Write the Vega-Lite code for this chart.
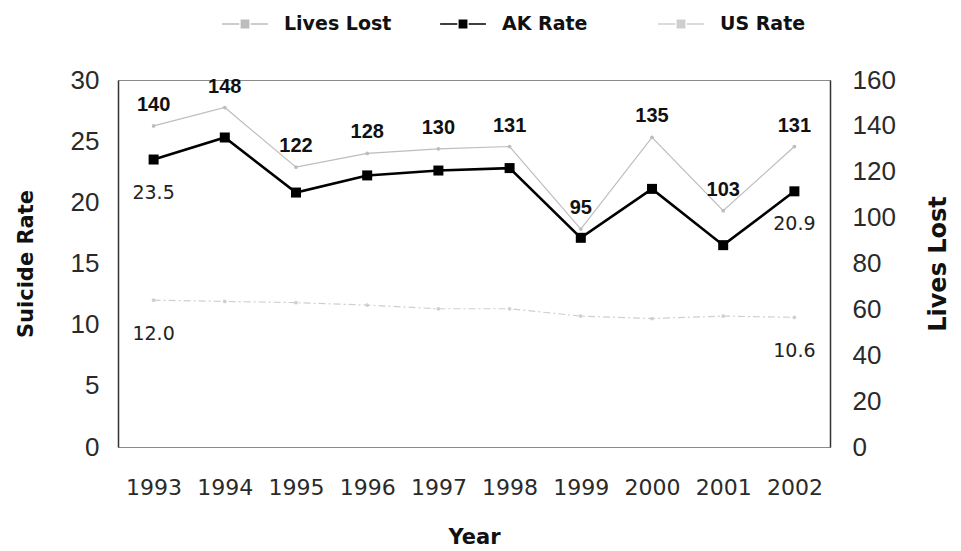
{
  "$schema": "https://vega.github.io/schema/vega-lite/v6.json",
  "width": 712,
  "height": 367,
  "autosize": "none",
  "padding": {"left": 118, "top": 80, "right": 131, "bottom": 104},
  "background": "white",
  "config": {
    "view": {"stroke": "#8a8a8a", "strokeWidth": 1},
    "font": "Liberation Sans",
    "axis": {"grid": false, "ticks": false, "domainColor": "#333", "domainWidth": 1.5},
    "legend": {
      "orient": "none",
      "legendX": 103,
      "legendY": -80,
      "direction": "horizontal",
      "title": null,
      "gridAlign": "all",
      "symbolType": "M-1,0H-0.25M0.25,0H1M-0.16,-0.16H0.16V0.16H-0.16Z",
      "symbolSize": 2100,
      "labelFont": "DejaVu Sans",
      "labelFontWeight": "bold",
      "labelFontSize": 19,
      "labelColor": "#111",
      "labelOffset": 15,
      "columnPadding": 45
    }
  },
  "data": {
    "values": [
      {"year": "1993", "lives": 140, "ak": 23.5, "us": 12.0},
      {"year": "1994", "lives": 148, "ak": 25.3, "us": 11.9},
      {"year": "1995", "lives": 122, "ak": 20.8, "us": 11.8},
      {"year": "1996", "lives": 128, "ak": 22.2, "us": 11.6},
      {"year": "1997", "lives": 130, "ak": 22.6, "us": 11.3},
      {"year": "1998", "lives": 131, "ak": 22.8, "us": 11.3},
      {"year": "1999", "lives": 95, "ak": 17.1, "us": 10.7},
      {"year": "2000", "lives": 135, "ak": 21.1, "us": 10.5},
      {"year": "2001", "lives": 103, "ak": 16.5, "us": 10.7},
      {"year": "2002", "lives": 131, "ak": 20.9, "us": 10.6}
    ]
  },
  "encoding": {
    "x": {
      "field": "year",
      "type": "ordinal",
      "scale": {"type": "point", "padding": 0.5},
      "axis": {
        "title": "Year",
        "labelAngle": 0,
        "labelFont": "DejaVu Sans",
        "labelFontSize": 22,
        "labelColor": "#2a2a2a",
        "labelPadding": 30,
        "domain": false,
        "titleFont": "DejaVu Sans",
        "titleFontSize": 21,
        "titleFontWeight": "bold",
        "titleColor": "#111",
        "titlePadding": 28
      }
    }
  },
  "layer": [
    {
      "layer": [
        {
          "mark": {"type": "line", "strokeWidth": 1.2, "strokeDash": [7, 3, 2, 3], "point": {"size": 14, "filled": true, "color": "#c4c4c4"}},
          "encoding": {
            "y": {
              "field": "us",
              "type": "quantitative",
              "scale": {"domain": [0, 30]},
              "axis": {
                "title": "Suicide Rate",
                "values": [0, 5, 10, 15, 20, 25, 30],
                "labelFontSize": 26,
                "labelColor": "#2a2a2a",
                "labelPadding": 19,
                "titleFont": "DejaVu Sans",
                "titleFontSize": 21,
                "titleFontWeight": "bold",
                "titleColor": "#111",
                "titlePadding": 34
              }
            },
            "color": {
              "datum": "US Rate",
              "scale": {"domain": ["Lives Lost", "AK Rate", "US Rate"], "range": ["#bdbdbd", "#000000", "#cfcfcf"]}
            }
          }
        },
        {
          "mark": {"type": "line", "strokeWidth": 2.6, "point": {"shape": "square", "size": 100, "filled": true, "color": "#000"}},
          "encoding": {
            "y": {"field": "ak", "type": "quantitative", "title": "Suicide Rate"},
            "color": {"datum": "AK Rate"}
          }
        },
        {
          "transform": [{"filter": "datum.year == '1993' || datum.year == '2002'"}],
          "mark": {"type": "text", "dy": 33, "font": "DejaVu Sans", "fontSize": 19, "color": "#222"},
          "encoding": {
            "y": {"field": "ak", "type": "quantitative", "title": "Suicide Rate"},
            "text": {"field": "ak", "type": "quantitative", "format": ".1f"}
          }
        },
        {
          "transform": [{"filter": "datum.year == '1993' || datum.year == '2002'"}],
          "mark": {"type": "text", "dy": 34, "font": "DejaVu Sans", "fontSize": 19, "color": "#222"},
          "encoding": {
            "y": {"field": "us", "type": "quantitative", "title": "Suicide Rate"},
            "text": {"field": "us", "type": "quantitative", "format": ".1f"}
          }
        }
      ]
    },
    {
      "layer": [
        {
          "mark": {"type": "line", "strokeWidth": 1.2, "point": {"size": 14, "filled": true, "color": "#b5b5b5"}},
          "encoding": {
            "y": {
              "field": "lives",
              "type": "quantitative",
              "scale": {"domain": [0, 160]},
              "axis": {
                "orient": "right",
                "title": "Lives Lost",
                "values": [0, 20, 40, 60, 80, 100, 120, 140, 160],
                "labelFontSize": 26,
                "labelColor": "#2a2a2a",
                "labelPadding": 22,
                "titleAngle": 270,
                "titleFont": "DejaVu Sans",
                "titleFontSize": 24,
                "titleFontWeight": "bold",
                "titleColor": "#111",
                "titlePadding": 55
              }
            },
            "color": {"datum": "Lives Lost"}
          }
        },
        {
          "mark": {"type": "text", "dy": -21, "fontSize": 20, "fontWeight": "bold", "color": "#111"},
          "encoding": {
            "y": {"field": "lives", "type": "quantitative", "title": "Lives Lost"},
            "text": {"field": "lives", "type": "quantitative"}
          }
        }
      ]
    }
  ],
  "resolve": {"scale": {"y": "independent"}}
}
